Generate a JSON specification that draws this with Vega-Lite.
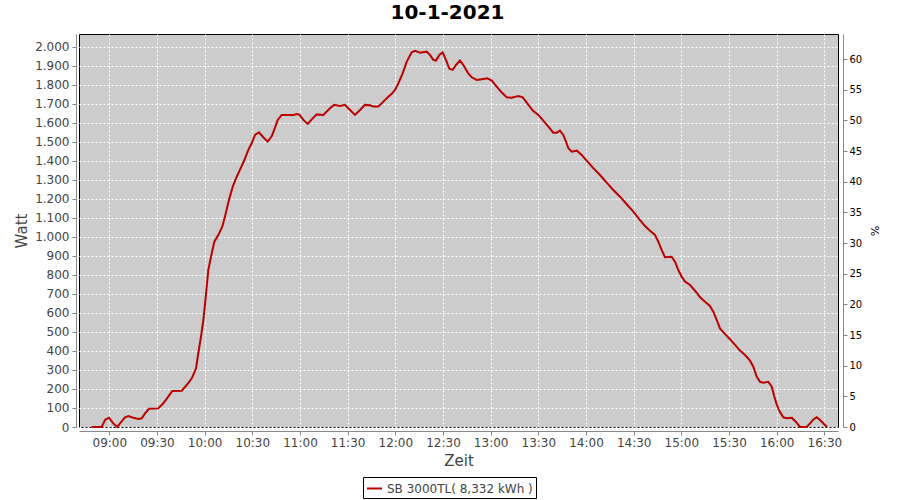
{
  "$schema": "https://vega.github.io/schema/vega-lite/v6.json",
  "width": 759,
  "height": 393,
  "autosize": "none",
  "padding": {"left": 79, "top": 34, "right": 62, "bottom": 73},
  "background": "white",
  "title": {
    "text": "10-1-2021",
    "font": "DejaVu Sans",
    "fontSize": 20,
    "fontWeight": "bold",
    "color": "#000000",
    "anchor": "middle",
    "frame": "group",
    "baseline": "alphabetic",
    "dx": -11,
    "offset": -5
  },
  "config": {
    "font": "DejaVu Sans",
    "view": {"fill": "#cccccc", "stroke": "#000000", "strokeWidth": 1},
    "axis": {
      "domainColor": "#888888",
      "tickColor": "#888888",
      "tickSize": 4,
      "labelColor": "#444444",
      "labelFontSize": 12,
      "titleFontSize": 15,
      "titleFontWeight": "normal",
      "titleColor": "#444444",
      "gridColor": "#ffffff",
      "gridDash": [2, 2],
      "gridOpacity": 1
    }
  },
  "layer": [
    {
      "data": {
        "values": [
          {"t": "2021-01-10T08:48:54Z", "w": 0},
          {"t": "2021-01-10T08:55:12Z", "w": 0},
          {"t": "2021-01-10T08:57:18Z", "w": 37},
          {"t": "2021-01-10T08:59:48Z", "w": 49},
          {"t": "2021-01-10T09:02:30Z", "w": 19},
          {"t": "2021-01-10T09:05:00Z", "w": 0},
          {"t": "2021-01-10T09:07:24Z", "w": 25},
          {"t": "2021-01-10T09:09:54Z", "w": 51},
          {"t": "2021-01-10T09:12:00Z", "w": 58},
          {"t": "2021-01-10T09:15:06Z", "w": 49},
          {"t": "2021-01-10T09:18:18Z", "w": 42},
          {"t": "2021-01-10T09:20:24Z", "w": 46},
          {"t": "2021-01-10T09:22:30Z", "w": 72},
          {"t": "2021-01-10T09:25:00Z", "w": 96},
          {"t": "2021-01-10T09:30:48Z", "w": 98},
          {"t": "2021-01-10T09:34:00Z", "w": 125},
          {"t": "2021-01-10T09:37:06Z", "w": 160},
          {"t": "2021-01-10T09:39:36Z", "w": 189},
          {"t": "2021-01-10T09:45:36Z", "w": 191},
          {"t": "2021-01-10T09:48:42Z", "w": 221},
          {"t": "2021-01-10T09:51:54Z", "w": 256},
          {"t": "2021-01-10T09:54:36Z", "w": 309},
          {"t": "2021-01-10T09:56:00Z", "w": 388},
          {"t": "2021-01-10T09:57:42Z", "w": 475},
          {"t": "2021-01-10T09:59:12Z", "w": 563},
          {"t": "2021-01-10T10:00:42Z", "w": 686},
          {"t": "2021-01-10T10:02:18Z", "w": 826},
          {"t": "2021-01-10T10:04:00Z", "w": 896},
          {"t": "2021-01-10T10:06:06Z", "w": 975},
          {"t": "2021-01-10T10:08:36Z", "w": 1010},
          {"t": "2021-01-10T10:11:06Z", "w": 1054},
          {"t": "2021-01-10T10:12:48Z", "w": 1107},
          {"t": "2021-01-10T10:15:18Z", "w": 1195},
          {"t": "2021-01-10T10:17:42Z", "w": 1265},
          {"t": "2021-01-10T10:20:12Z", "w": 1317},
          {"t": "2021-01-10T10:22:42Z", "w": 1362},
          {"t": "2021-01-10T10:25:00Z", "w": 1405},
          {"t": "2021-01-10T10:27:30Z", "w": 1458},
          {"t": "2021-01-10T10:29:36Z", "w": 1493},
          {"t": "2021-01-10T10:31:42Z", "w": 1537},
          {"t": "2021-01-10T10:34:12Z", "w": 1551},
          {"t": "2021-01-10T10:36:54Z", "w": 1525},
          {"t": "2021-01-10T10:39:42Z", "w": 1502},
          {"t": "2021-01-10T10:42:12Z", "w": 1530},
          {"t": "2021-01-10T10:44:18Z", "w": 1575},
          {"t": "2021-01-10T10:46:00Z", "w": 1616},
          {"t": "2021-01-10T10:48:30Z", "w": 1642},
          {"t": "2021-01-10T10:55:48Z", "w": 1642},
          {"t": "2021-01-10T10:57:54Z", "w": 1647},
          {"t": "2021-01-10T10:59:36Z", "w": 1644},
          {"t": "2021-01-10T11:02:06Z", "w": 1616},
          {"t": "2021-01-10T11:04:54Z", "w": 1595},
          {"t": "2021-01-10T11:07:24Z", "w": 1619},
          {"t": "2021-01-10T11:10:30Z", "w": 1645},
          {"t": "2021-01-10T11:14:42Z", "w": 1642},
          {"t": "2021-01-10T11:18:54Z", "w": 1677},
          {"t": "2021-01-10T11:21:24Z", "w": 1695},
          {"t": "2021-01-10T11:25:12Z", "w": 1689},
          {"t": "2021-01-10T11:28:18Z", "w": 1695},
          {"t": "2021-01-10T11:31:30Z", "w": 1668},
          {"t": "2021-01-10T11:34:36Z", "w": 1642},
          {"t": "2021-01-10T11:37:48Z", "w": 1668},
          {"t": "2021-01-10T11:40:54Z", "w": 1695},
          {"t": "2021-01-10T11:44:06Z", "w": 1693},
          {"t": "2021-01-10T11:46:06Z", "w": 1686},
          {"t": "2021-01-10T11:49:18Z", "w": 1686},
          {"t": "2021-01-10T11:51:24Z", "w": 1703},
          {"t": "2021-01-10T11:54:36Z", "w": 1730},
          {"t": "2021-01-10T11:57:42Z", "w": 1753},
          {"t": "2021-01-10T11:59:48Z", "w": 1774},
          {"t": "2021-01-10T12:01:54Z", "w": 1808},
          {"t": "2021-01-10T12:04:36Z", "w": 1861},
          {"t": "2021-01-10T12:07:12Z", "w": 1923},
          {"t": "2021-01-10T12:10:18Z", "w": 1972},
          {"t": "2021-01-10T12:12:24Z", "w": 1979},
          {"t": "2021-01-10T12:15:30Z", "w": 1970},
          {"t": "2021-01-10T12:19:42Z", "w": 1975},
          {"t": "2021-01-10T12:21:48Z", "w": 1958},
          {"t": "2021-01-10T12:23:54Z", "w": 1932},
          {"t": "2021-01-10T12:25:36Z", "w": 1928},
          {"t": "2021-01-10T12:27:42Z", "w": 1958},
          {"t": "2021-01-10T12:29:48Z", "w": 1972},
          {"t": "2021-01-10T12:32:18Z", "w": 1923},
          {"t": "2021-01-10T12:34:00Z", "w": 1885},
          {"t": "2021-01-10T12:36:06Z", "w": 1879},
          {"t": "2021-01-10T12:38:12Z", "w": 1905},
          {"t": "2021-01-10T12:40:42Z", "w": 1928},
          {"t": "2021-01-10T12:42:48Z", "w": 1905},
          {"t": "2021-01-10T12:45:54Z", "w": 1861},
          {"t": "2021-01-10T12:48:06Z", "w": 1840},
          {"t": "2021-01-10T12:51:12Z", "w": 1826},
          {"t": "2021-01-10T12:54:24Z", "w": 1830},
          {"t": "2021-01-10T12:57:54Z", "w": 1835},
          {"t": "2021-01-10T13:00:42Z", "w": 1823},
          {"t": "2021-01-10T13:03:48Z", "w": 1791},
          {"t": "2021-01-10T13:07:00Z", "w": 1760},
          {"t": "2021-01-10T13:10:06Z", "w": 1735},
          {"t": "2021-01-10T13:13:12Z", "w": 1733},
          {"t": "2021-01-10T13:17:24Z", "w": 1742},
          {"t": "2021-01-10T13:20:12Z", "w": 1735},
          {"t": "2021-01-10T13:22:42Z", "w": 1707},
          {"t": "2021-01-10T13:26:30Z", "w": 1665},
          {"t": "2021-01-10T13:30:00Z", "w": 1642},
          {"t": "2021-01-10T13:33:06Z", "w": 1612},
          {"t": "2021-01-10T13:36:18Z", "w": 1581},
          {"t": "2021-01-10T13:39:24Z", "w": 1549},
          {"t": "2021-01-10T13:41:36Z", "w": 1549},
          {"t": "2021-01-10T13:43:36Z", "w": 1560},
          {"t": "2021-01-10T13:45:42Z", "w": 1537},
          {"t": "2021-01-10T13:47:24Z", "w": 1502},
          {"t": "2021-01-10T13:48:54Z", "w": 1467},
          {"t": "2021-01-10T13:51:00Z", "w": 1449},
          {"t": "2021-01-10T13:54:12Z", "w": 1454},
          {"t": "2021-01-10T13:57:18Z", "w": 1432},
          {"t": "2021-01-10T14:00:24Z", "w": 1402},
          {"t": "2021-01-10T14:04:36Z", "w": 1362},
          {"t": "2021-01-10T14:08:48Z", "w": 1326},
          {"t": "2021-01-10T14:13:00Z", "w": 1286},
          {"t": "2021-01-10T14:17:12Z", "w": 1247},
          {"t": "2021-01-10T14:21:24Z", "w": 1212},
          {"t": "2021-01-10T14:25:36Z", "w": 1172},
          {"t": "2021-01-10T14:29:48Z", "w": 1133},
          {"t": "2021-01-10T14:33:36Z", "w": 1093},
          {"t": "2021-01-10T14:37:06Z", "w": 1058},
          {"t": "2021-01-10T14:40:18Z", "w": 1033},
          {"t": "2021-01-10T14:43:24Z", "w": 1011},
          {"t": "2021-01-10T14:45:30Z", "w": 975},
          {"t": "2021-01-10T14:47:36Z", "w": 932},
          {"t": "2021-01-10T14:49:42Z", "w": 893},
          {"t": "2021-01-10T14:53:54Z", "w": 896},
          {"t": "2021-01-10T14:56:00Z", "w": 870},
          {"t": "2021-01-10T14:58:06Z", "w": 826},
          {"t": "2021-01-10T15:00:12Z", "w": 791},
          {"t": "2021-01-10T15:02:18Z", "w": 765},
          {"t": "2021-01-10T15:05:30Z", "w": 747},
          {"t": "2021-01-10T15:08:36Z", "w": 717},
          {"t": "2021-01-10T15:11:48Z", "w": 683},
          {"t": "2021-01-10T15:14:54Z", "w": 659},
          {"t": "2021-01-10T15:18:00Z", "w": 637},
          {"t": "2021-01-10T15:20:06Z", "w": 607},
          {"t": "2021-01-10T15:22:18Z", "w": 563},
          {"t": "2021-01-10T15:24:18Z", "w": 519},
          {"t": "2021-01-10T15:27:30Z", "w": 489},
          {"t": "2021-01-10T15:30:36Z", "w": 462},
          {"t": "2021-01-10T15:33:48Z", "w": 432},
          {"t": "2021-01-10T15:36:54Z", "w": 402},
          {"t": "2021-01-10T15:40:06Z", "w": 379},
          {"t": "2021-01-10T15:43:12Z", "w": 349},
          {"t": "2021-01-10T15:45:18Z", "w": 317},
          {"t": "2021-01-10T15:47:24Z", "w": 265},
          {"t": "2021-01-10T15:49:30Z", "w": 238},
          {"t": "2021-01-10T15:51:36Z", "w": 233},
          {"t": "2021-01-10T15:54:42Z", "w": 238},
          {"t": "2021-01-10T15:56:54Z", "w": 212},
          {"t": "2021-01-10T15:58:30Z", "w": 160},
          {"t": "2021-01-10T16:00:00Z", "w": 119},
          {"t": "2021-01-10T16:01:42Z", "w": 84},
          {"t": "2021-01-10T16:04:12Z", "w": 51},
          {"t": "2021-01-10T16:06:18Z", "w": 46},
          {"t": "2021-01-10T16:09:30Z", "w": 49},
          {"t": "2021-01-10T16:12:00Z", "w": 28},
          {"t": "2021-01-10T16:14:42Z", "w": 0},
          {"t": "2021-01-10T16:18:54Z", "w": 0},
          {"t": "2021-01-10T16:21:00Z", "w": 19},
          {"t": "2021-01-10T16:23:06Z", "w": 40},
          {"t": "2021-01-10T16:25:12Z", "w": 51},
          {"t": "2021-01-10T16:27:18Z", "w": 37},
          {"t": "2021-01-10T16:30:48Z", "w": 7},
          {"t": "2021-01-10T16:31:42Z", "w": 0}
        ]
      },
      "mark": {"type": "line", "strokeWidth": 2},
      "encoding": {
        "x": {
          "field": "t",
          "type": "temporal",
          "scale": {"type": "utc", "domain": [1610268056000, 1610296715000], "nice": false},
          "axis": {
            "title": "Zeit",
            "format": "%H:%M",
            "offset": 4,
            "labelPadding": 2,
            "titlePadding": 5,
            "grid": true
          }
        },
        "y": {
          "field": "w",
          "type": "quantitative",
          "scale": {"domain": [0, 2068], "nice": false},
          "axis": {
            "title": "Watt",
            "values": [0, 100, 200, 300, 400, 500, 600, 700, 800, 900, 1000, 1100, 1200, 1300, 1400, 1500, 1600, 1700, 1800, 1900, 2000],
            "labelExpr": "replace(format(datum.value, ','), ',', '.')",
            "offset": 3,
            "labelPadding": 3,
            "titlePadding": 5,
            "grid": true
          }
        },
        "color": {
          "datum": "SB 3000TL( 8,332 kWh )",
          "type": "nominal",
          "scale": {"range": ["#bb0000"]},
          "legend": {
            "title": null,
            "orient": "none",
            "legendX": 284,
            "legendY": 443,
            "strokeColor": "#000000",
            "fillColor": "#ffffff",
            "padding": 3,
            "symbolType": "stroke",
            "symbolSize": 225,
            "symbolStrokeWidth": 2,
            "labelFontSize": 12,
            "labelColor": "#444444"
          }
        }
      }
    },
    {
      "data": {"values": [{"p": 0}, {"p": 60}]},
      "mark": {"type": "point", "opacity": 0},
      "encoding": {
        "y": {
          "field": "p",
          "type": "quantitative",
          "scale": {"domain": [0, 64.08], "nice": false},
          "axis": {
            "title": "%",
            "orient": "right",
            "values": [0, 5, 10, 15, 20, 25, 30, 35, 40, 45, 50, 55, 60],
            "offset": 5,
            "grid": false,
            "labelFontSize": 10,
            "labelColor": "#000000",
            "labelPadding": 2,
            "titleFontSize": 11,
            "titleColor": "#000000",
            "titlePadding": 7
          }
        }
      }
    }
  ],
  "resolve": {"scale": {"y": "independent"}}
}
